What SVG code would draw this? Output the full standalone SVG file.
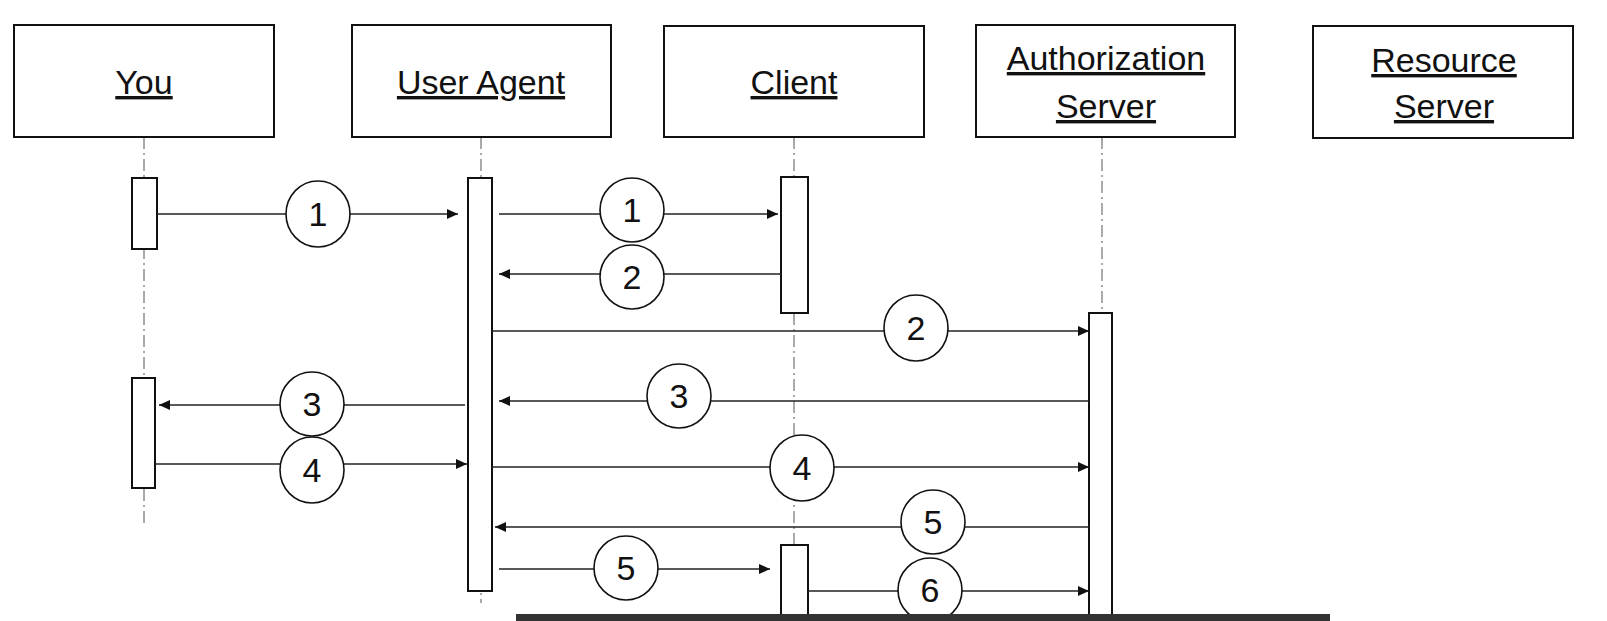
<svg xmlns="http://www.w3.org/2000/svg" width="1607" height="621" viewBox="0 0 1607 621">
<style>
.box{fill:#fff;stroke:#111;stroke-width:2}
.act{fill:#fff;stroke:#111;stroke-width:2}
.life{stroke:#555;stroke-width:1;stroke-dasharray:12 4 2 4;fill:none}
.title{font-family:"Liberation Sans",Arial,sans-serif;font-size:34px;fill:#111;text-anchor:middle;text-decoration:underline}
.msg{stroke:#222;stroke-width:1.4;fill:none;marker-end:url(#ah)}
.num{fill:#fff;stroke:#111;stroke-width:1.6}
.numt{font-family:"Liberation Sans",Arial,sans-serif;font-size:34px;fill:#111;text-anchor:middle}
</style>
<defs>
<marker id="ah" markerUnits="userSpaceOnUse" markerWidth="12" markerHeight="10" refX="11" refY="5" orient="auto">
<path d="M0,0 L11,5 L0,10 z" fill="#111"/>
</marker>
</defs>
<rect width="1607" height="621" fill="#fff"/>

<g id="you">
<line class="life" x1="144" y1="137" x2="144" y2="527"/>
<rect class="box" x="14" y="25" width="260" height="112"/>
<text class="title" x="144" y="94">You</text>
<rect class="act" x="132" y="178" width="25" height="71"/>
<rect class="act" x="132" y="378" width="23" height="110"/>
</g>

<g id="user-agent">
<line class="life" x1="481" y1="137" x2="481" y2="603"/>
<rect class="box" x="352" y="25" width="259" height="112"/>
<text class="title" x="481" y="94">User Agent</text>
<rect class="act" x="468" y="178" width="24" height="413"/>
</g>

<g id="client">
<line class="life" x1="794" y1="137" x2="794" y2="621"/>
<rect class="box" x="664" y="26" width="260" height="111"/>
<text class="title" x="794" y="94">Client</text>
<rect class="act" x="781" y="177" width="27" height="136"/>
<rect class="act" x="781" y="545" width="27" height="80"/>
</g>

<g id="authorization-server">
<line class="life" x1="1102" y1="137" x2="1102" y2="313"/>
<rect class="box" x="976" y="25" width="259" height="112"/>
<text class="title" x="1106" y="70">Authorization</text>
<text class="title" x="1106" y="118">Server</text>
<rect class="act" x="1089" y="313" width="23" height="312"/>
</g>

<g id="resource-server">
<rect class="box" x="1313" y="26" width="260" height="112"/>
<text class="title" x="1444" y="72">Resource</text>
<text class="title" x="1444" y="118">Server</text>
</g>

<g id="connectors">
<line class="msg" x1="157" y1="214" x2="458" y2="214"/>
<line class="msg" x1="499" y1="214" x2="778" y2="214"/>
<line class="msg" x1="781" y1="274" x2="499" y2="274"/>
<line class="msg" x1="492" y1="331" x2="1089" y2="331"/>
<line class="msg" x1="1089" y1="401" x2="499" y2="401"/>
<line class="msg" x1="465" y1="405" x2="159" y2="405"/>
<line class="msg" x1="155" y1="464" x2="467" y2="464"/>
<line class="msg" x1="492" y1="467" x2="1089" y2="467"/>
<line class="msg" x1="1089" y1="527" x2="495" y2="527"/>
<line class="msg" x1="499" y1="569" x2="770" y2="569"/>
<line class="msg" x1="808" y1="591" x2="1089" y2="591"/>

<ellipse class="num" cx="318" cy="214" rx="32" ry="33"/><text class="numt" x="318" y="226">1</text>
<ellipse class="num" cx="632" cy="210" rx="32" ry="32"/><text class="numt" x="632" y="222">1</text>
<ellipse class="num" cx="632" cy="277" rx="32" ry="32"/><text class="numt" x="632" y="289">2</text>
<ellipse class="num" cx="916" cy="328" rx="32" ry="33"/><text class="numt" x="916" y="340">2</text>
<ellipse class="num" cx="679" cy="396" rx="32" ry="32"/><text class="numt" x="679" y="408">3</text>
<ellipse class="num" cx="312" cy="404" rx="32" ry="32"/><text class="numt" x="312" y="416">3</text>
<ellipse class="num" cx="312" cy="470" rx="32" ry="33"/><text class="numt" x="312" y="482">4</text>
<ellipse class="num" cx="802" cy="468" rx="32" ry="33"/><text class="numt" x="802" y="480">4</text>
<ellipse class="num" cx="933" cy="522" rx="32" ry="32"/><text class="numt" x="933" y="534">5</text>
<ellipse class="num" cx="626" cy="568" rx="32" ry="32"/><text class="numt" x="626" y="580">5</text>
<ellipse class="num" cx="930" cy="590" rx="32" ry="32"/><text class="numt" x="930" y="602">6</text>
</g>

<rect x="516" y="614" width="814" height="7" fill="#333"/>
</svg>
